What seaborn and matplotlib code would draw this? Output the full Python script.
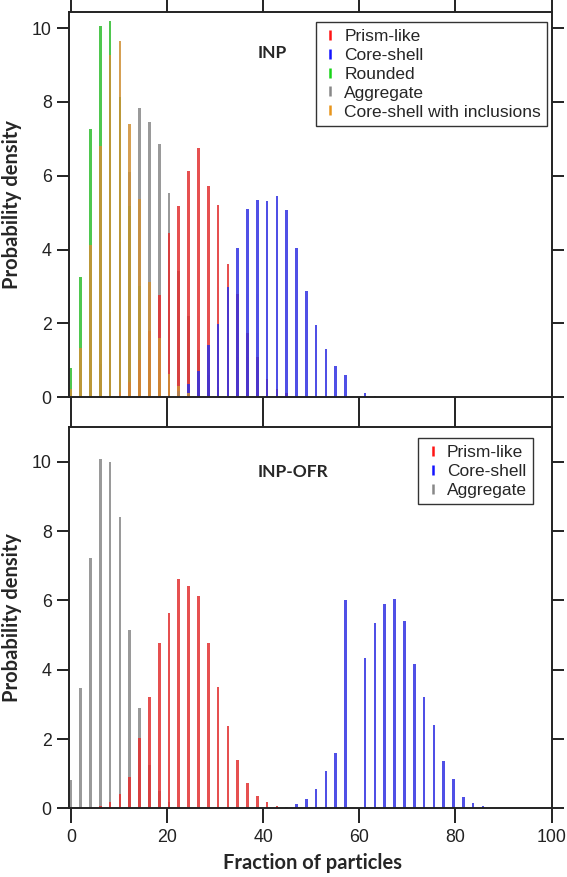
import numpy as np
import pandas as pd
import seaborn as sns
import matplotlib.pyplot as plt
from matplotlib.lines import Line2D

# 50 bins over the 0-100 % axis (bin centres)
bins = np.linspace(0, 100, 50)

# INP panel: (first bin index, densities)
inp_prism_start = 4
inp_prism = [0.03, 0.14, 0.42, 1.0, 1.8, 2.76, 4.45, 5.18, 6.13, 6.74,
             5.73, 5.2, 3.62, 2.79, 1.74, 1.09, 0.5, 0.23, 0.1]
inp_core_start = 10
inp_core = [0.05, 0.16, 0.36, 0.7, 1.4, 1.99, 2.97, 4.03, 5.11, 5.34, 5.32,
            5.45, 5.07, 4.05, 2.87, 1.96, 1.29, 0.84, 0.59, 0, 0.11, 0.04]
inp_round_start = 0
inp_round = [0.8, 3.25, 7.28, 10.06, 10.2, 8.14, 5.17, 3.0, 1.36, 0.41]
inp_agg_start = 2
inp_agg = [0.2, 0.9, 2.3, 4.2, 6.1, 7.83, 7.47, 6.85, 5.54, 3.42, 2.2,
           1.27, 0.59, 0.27]
inp_incl_start = 0
inp_incl = [0.21, 1.34, 4.13, 6.8, 9.27, 9.65, 7.4, 5.38, 3.12, 1.61, 0.63,
            0.3, 0.1]

# INP-OFR panel
ofr_prism_start = 3
ofr_prism = [0.07, 0.18, 0.4, 0.9, 2.02, 3.22, 4.78, 5.63, 6.62, 6.42, 6.13,
             4.78, 3.51, 2.38, 1.38, 0.72, 0.37, 0.17, 0.06]
ofr_core_start = 22
ofr_core = [0.04, 0.13, 0.26, 0.55, 1.08, 1.6, 6.01, 0, 4.35, 5.36, 5.9,
            6.05, 5.4, 4.17, 3.21, 2.4, 1.37, 0.84, 0.34, 0.16, 0.07, 0.02]
ofr_agg_start = 0
ofr_agg = [0.81, 3.47, 7.22, 10.07, 10.0, 8.4, 5.13, 2.9, 1.25, 0.49, 0.17]

colors = {'Prism-like': '#ff1414', 'Core-shell': '#1414ff',
          'Rounded': '#18d418', 'Aggregate': '#888888',
          'Core-shell with inclusions': '#e8951c'}


def long_table(series):
    rows = []
    for name, start, vals in series:
        for i, v in enumerate(vals):
            if v > 0:
                rows.append({'fraction': bins[start + i], 'density': v, 'shape': name})
    return pd.DataFrame(rows)


inp_df = long_table([('Prism-like', inp_prism_start, inp_prism),
                     ('Core-shell', inp_core_start, inp_core),
                     ('Rounded', inp_round_start, inp_round),
                     ('Aggregate', inp_agg_start, inp_agg),
                     ('Core-shell with inclusions', inp_incl_start, inp_incl)])
ofr_df = long_table([('Prism-like', ofr_prism_start, ofr_prism),
                     ('Core-shell', ofr_core_start, ofr_core),
                     ('Aggregate', ofr_agg_start, ofr_agg)])

sns.set_style('ticks')
plt.rcParams['font.family'] = ['Liberation Sans', 'DejaVu Sans']
plt.rcParams['axes.edgecolor'] = '#222222'
plt.rcParams['xtick.color'] = '#222222'
plt.rcParams['ytick.color'] = '#222222'

fig = plt.figure(figsize=(5.67, 8.77), dpi=100)
ax1 = fig.add_axes([0.1217, 0.5473, 0.851, 0.439])
ax2 = fig.add_axes([0.1217, 0.0783, 0.851, 0.4348])

draw_top = ['Aggregate', 'Rounded', 'Prism-like', 'Core-shell', 'Core-shell with inclusions']
draw_bot = ['Aggregate', 'Prism-like', 'Core-shell']
sns.barplot(data=inp_df, x='fraction', y='density', hue='shape', hue_order=draw_top,
            palette=colors, native_scale=True, dodge=False, width=0.27, errorbar=None,
            alpha=0.85, linewidth=0, legend=False, ax=ax1)
sns.barplot(data=ofr_df, x='fraction', y='density', hue='shape', hue_order=draw_bot,
            palette=colors, native_scale=True, dodge=False, width=0.27, errorbar=None,
            alpha=0.85, linewidth=0, legend=False, ax=ax2)

lab_font = dict(family=['Lato', 'DejaVu Sans'], weight='bold')

for ax, top in [(ax1, 10.44), (ax2, 11.0)]:
    ax.set_xlim(-0.4, 100)
    ax.set_ylim(0, top)
    ax.set_xticks([0, 20, 40, 60, 80, 100])
    ax.set_yticks([0, 2, 4, 6, 8, 10])
    ax.tick_params(direction='out', length=8.5, width=1.4, labelsize=12.8, pad=4,
                   top=True, right=True)
    for s in ax.spines.values():
        s.set_linewidth(1.4)
    ax.set_ylabel('Probability density', fontsize=14.5, **lab_font)
    ax.yaxis.set_label_coords(-0.097, 0.5)
    ax.set_xlabel('')

ax1.tick_params(axis='x', labelbottom=False, length=11)
ax2.xaxis.set_tick_params(which='major', length=11)
ax2.set_xlabel('Fraction of particles', fontsize=14.5, **lab_font)
ax2.xaxis.set_label_coords(0.504, -0.118)

ax1.text(38.9, 9.34, 'INP', ha='left', va='center', fontsize=12.5, **lab_font)
ax2.text(38.8, 9.71, 'INP-OFR', ha='left', va='center', fontsize=12.5, **lab_font)


def handles(names):
    return [Line2D([], [], linestyle='none', marker='|', markersize=7,
                   markeredgewidth=1.8, color=colors[n], label=n) for n in names]


leg_kw = dict(loc='upper right', borderaxespad=0, fontsize=12.5, handlelength=1.0,
              handletextpad=0.3, borderpad=0.35, labelspacing=0.22, fancybox=False,
              edgecolor='#333333', framealpha=1)
l1 = ax1.legend(handles=handles(['Prism-like', 'Core-shell', 'Rounded', 'Aggregate',
                                 'Core-shell with inclusions']),
                bbox_to_anchor=(0.991, 0.973), **leg_kw)
l2 = ax2.legend(handles=handles(['Prism-like', 'Core-shell', 'Aggregate']),
                bbox_to_anchor=(0.961, 0.970), **leg_kw)
for l in (l1, l2):
    l.get_frame().set_linewidth(1.0)

fig.savefig('out.png', dpi=100)
